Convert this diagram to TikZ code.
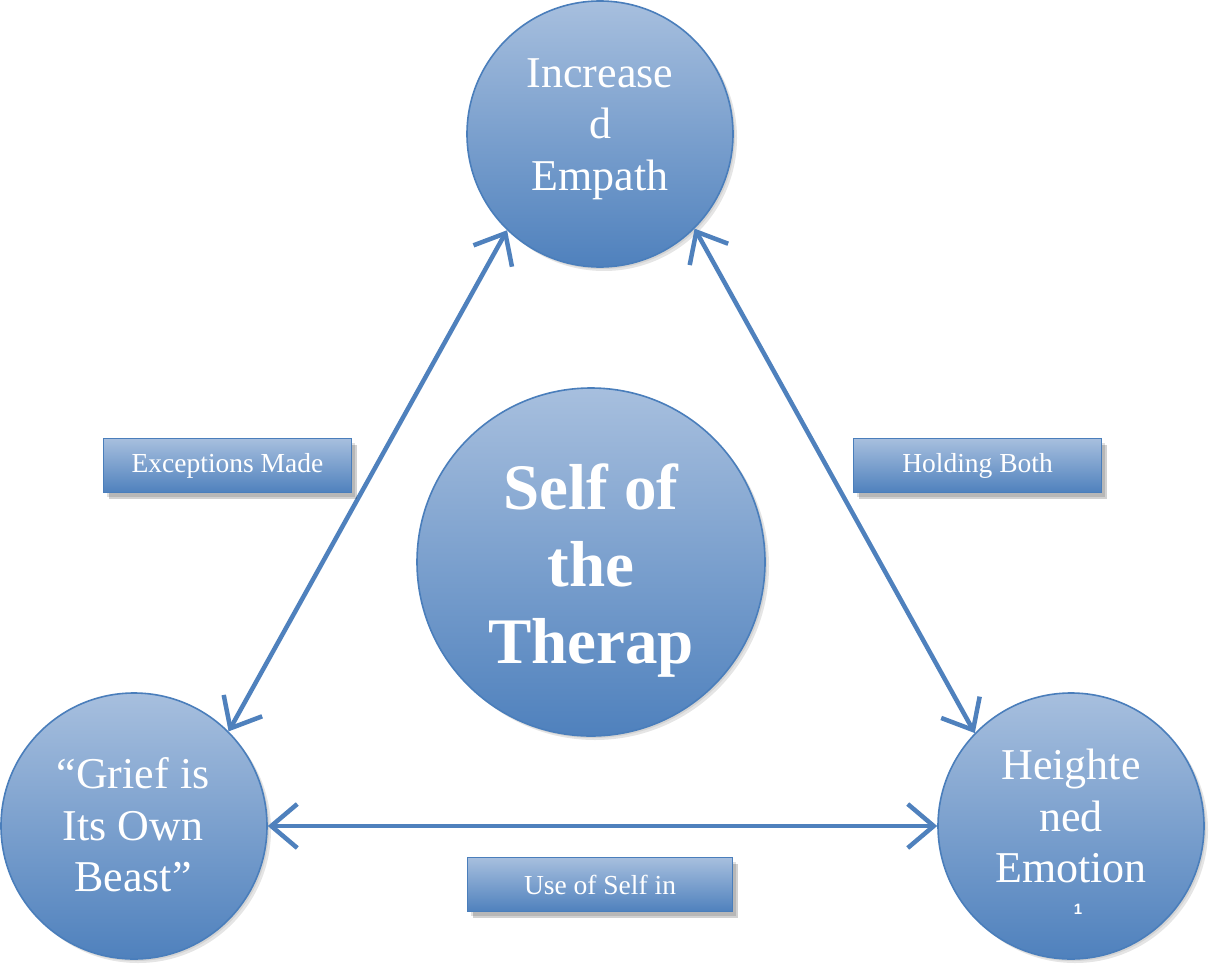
\documentclass[tikz,border=0pt]{standalone}
\usepackage{fontspec}
\setmainfont{Liberation Serif}
\setsansfont{Liberation Sans}
\usetikzlibrary{shadows,arrows.meta}
\definecolor{topc}{RGB}{167,191,222}
\definecolor{botc}{RGB}{79,129,189}
\definecolor{edgec}{RGB}{74,126,187}
\definecolor{arrc}{RGB}{79,129,189}
\tikzset{
  ball/.style={circle, inner sep=0pt, draw=edgec, line width=1.6pt, top color=topc, bottom color=botc,
    drop shadow={opacity=0.08, shadow xshift=2pt, shadow yshift=-2pt, fill=black},
    drop shadow={opacity=0.10, shadow xshift=4pt, shadow yshift=-4pt, fill=black}},
  lbl/.style={rectangle, inner sep=0pt, draw=edgec, line width=1.6pt, top color=topc, bottom color=botc,
    minimum height=54pt, text=white, font=\fontsize{27.5}{30}\selectfont,
    drop shadow={opacity=0.12, shadow xshift=3pt, shadow yshift=-4pt, fill=black},
    drop shadow={opacity=0.18, shadow xshift=5pt, shadow yshift=-6pt, fill=black}},
  txt/.style={text=white, align=center, inner sep=0pt, font=\fontsize{44}{51.5}\selectfont},
  bigtxt/.style={text=white, align=center, inner sep=0pt, font=\fontsize{65}{77}\selectfont\bfseries},
  link/.style={draw=arrc, line width=4.5pt,
    arrows={Straight Barb[length=26pt,width=44pt]-Straight Barb[length=26pt,width=44pt]}}
}
\begin{document}
\begin{tikzpicture}[x=1pt,y=-1pt]
\useasboundingbox[fill=white] (0,0) rectangle (1212,974);
% circles
\node[ball, minimum size=266pt] (top) at (600,134) {};
\node[ball, minimum size=266pt] (bl) at (134,826) {};
\node[ball, minimum size=266pt] (br) at (1071,826) {};
\node[ball, minimum size=348pt] (mid) at (591,562) {};
% texts
\node[txt] (toptxt) at (600,129) {Increase\\d\\Empath};
\node[txt] (bltxt) at (133,825) {\textquotedblleft Grief is\\Its Own\\Beast\textquotedblright};
\node[txt] (brtxt) at (1071,816) {Heighte\\ned\\Emotion};
\node[text=white, inner sep=0pt, font=\sffamily\bfseries\fontsize{15}{15}\selectfont] (one) at (1078,909) {1};
\node[bigtxt] (midtxt) at (591,571) {Self of\\the\\Therap};
% connectors
\draw[link] (top.226) -- (bl.45);
\draw[link] (top.315) -- (br.136);
\draw[link] (bl.east) -- (br.west);
% labels
\node[lbl, minimum width=248pt] (exc) at (227.5,465.5) {Exceptions Made};
\node[lbl, minimum width=248pt] (hold) at (977.5,465.5) {Holding Both};
\node[lbl, minimum width=265pt] (use) at (600,884.5) {Use of Self in};
\end{tikzpicture}
\end{document}
